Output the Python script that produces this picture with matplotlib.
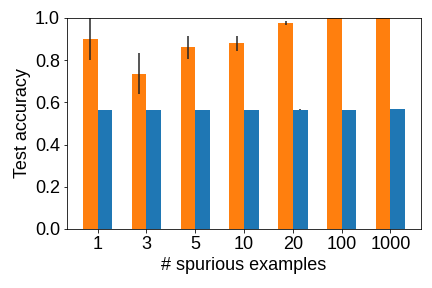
import numpy as np
import matplotlib.pyplot as plt

plt.rcParams['font.family'] = ['Liberation Sans', 'DejaVu Sans']
plt.rcParams['font.size'] = 18

labels = ["1", "3", "5", "10", "20", "100", "1000"]
orange_acc = [0.90, 0.736, 0.862, 0.88, 0.977, 1.0, 1.0]
orange_err = [0.10, 0.097, 0.054, 0.035, 0.009, 0.0, 0.0]
blue_acc = [0.565, 0.565, 0.565, 0.565, 0.565, 0.565, 0.569]
blue_err = [0.0, 0.0, 0.0, 0.0, 0.002, 0.0, 0.0]

x = np.arange(len(labels))
width = 0.3

fig, ax = plt.subplots(figsize=(6, 4), dpi=72)
ax.bar(x - width / 2, orange_acc, width, yerr=orange_err, color="#ff7f0e",
       error_kw=dict(ecolor="#222222", elinewidth=1.5))
ax.bar(x + width / 2, blue_acc, width, yerr=blue_err, color="#1f77b4",
       error_kw=dict(ecolor="#222222", elinewidth=1.5))

ax.set_xticks(x)
ax.set_xticklabels(labels)
ax.set_ylim(0, 1)
ax.set_xlabel("# spurious examples")
ax.set_ylabel("Test accuracy")

plt.subplots_adjust(left=0.155, right=0.975, top=0.9375, bottom=0.205)
plt.savefig("out.png", dpi=72)
